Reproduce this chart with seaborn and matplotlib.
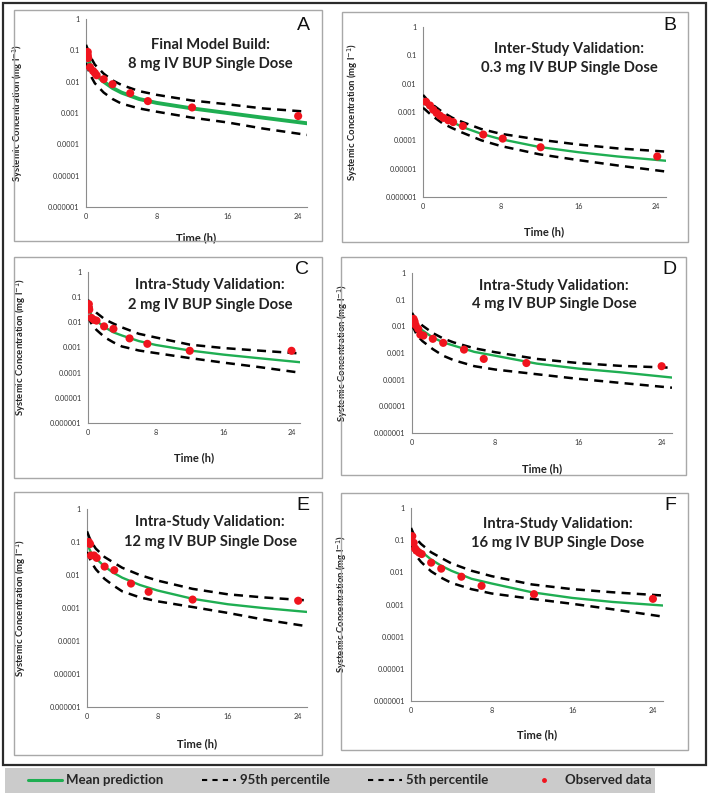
import matplotlib
matplotlib.use("Agg")
import pandas as pd
import matplotlib.pyplot as plt
import seaborn as sns
from matplotlib.lines import Line2D
from matplotlib.patches import Rectangle
from matplotlib.ticker import NullLocator

# --- data (time in h, concentration in mg/l) ---
TIME = [0, 0.25, 0.5, 1, 2, 3, 4, 6, 8, 12, 16, 20, 25]

# A: Final Model Build, 8 mg
A_MEAN = [1.0e-1, 5.6e-2, 3.2e-2, 1.8e-2, 1.0e-2, 6.3e-3, 4.5e-3, 2.8e-3, 2.1e-3, 1.4e-3, 1.0e-3, 7.1e-4, 4.7e-4]
A_P95 = [1.5e-1, 1.0e-1, 6.3e-2, 3.5e-2, 1.8e-2, 1.1e-2, 7.9e-3, 5.0e-3, 3.8e-3, 2.5e-3, 1.9e-3, 1.4e-3, 1.1e-3]
A_P5 = [4.0e-2, 2.5e-2, 1.6e-2, 8.9e-3, 4.5e-3, 2.8e-3, 2.0e-3, 1.4e-3, 1.1e-3, 7.1e-4, 5.0e-4, 3.2e-4, 2.0e-4]
A_OBS_T = [0.2, 0.2, 0.25, 0.45, 0.8, 1.0, 1.2, 2.0, 3.0, 5.0, 7.0, 12.0, 24.0]
A_OBS_C = [0.089, 0.07, 0.057, 0.029, 0.022, 0.019, 0.016, 0.012, 0.0083, 0.0043, 0.0024, 0.0015, 0.0008]

# B: Inter-study, 0.3 mg
B_MEAN = [2.2e-3, 1.9e-3, 1.6e-3, 1.2e-3, 6.8e-4, 4.5e-4, 3.0e-4, 1.7e-4, 1.1e-4, 5.8e-5, 3.8e-5, 2.7e-5, 1.9e-5]
B_P95 = [4.0e-3, 3.2e-3, 2.5e-3, 1.8e-3, 1.0e-3, 6.3e-4, 4.5e-4, 2.5e-4, 1.7e-4, 1.05e-4, 7.1e-5, 5.2e-5, 4.0e-5]
B_P5 = [1.4e-3, 1.2e-3, 1.0e-3, 7.1e-4, 4.0e-4, 2.7e-4, 1.9e-4, 1.0e-4, 6.3e-5, 3.2e-5, 2.0e-5, 1.3e-5, 7.9e-6]
B_OBS_T = [0.3, 0.72, 1.06, 1.4, 1.75, 2.1, 2.6, 3.1, 4.1, 6.2, 8.2, 12.1, 24.1]
B_OBS_C = [0.0023, 0.0017, 0.0012, 0.00092, 0.00074, 0.00062, 0.00051, 0.00044, 0.00032, 0.00016, 0.000115, 0.000057, 0.000027]

# C: Intra-study, 2 mg
C_MEAN = [4.0e-2, 2.5e-2, 1.66e-2, 1.12e-2, 6.3e-3, 4.0e-3, 3.0e-3, 1.8e-3, 1.26e-3, 7.6e-4, 5.2e-4, 3.8e-4, 2.6e-4]
C_P95 = [7.9e-2, 5.0e-2, 3.5e-2, 2.4e-2, 1.3e-2, 8.9e-3, 6.3e-3, 3.5e-3, 2.5e-3, 1.3e-3, 9.5e-4, 7.6e-4, 5.8e-4]
C_P5 = [1.8e-2, 1.1e-2, 7.9e-3, 5.0e-3, 2.5e-3, 1.6e-3, 1.1e-3, 7.6e-4, 6.0e-4, 3.8e-4, 2.5e-4, 1.7e-4, 1.0e-4]
C_OBS_T = [0.1, 0.1, 0.15, 0.4, 0.7, 1.0, 1.9, 3.0, 4.9, 7.0, 12.0, 24.0]
C_OBS_C = [0.053, 0.037, 0.032, 0.015, 0.0126, 0.0117, 0.0069, 0.0055, 0.0023, 0.0014, 0.00074, 0.00074]

# D: Intra-study, 4 mg
D_MEAN = [2.5e-2, 1.6e-2, 1.05e-2, 7.1e-3, 3.8e-3, 2.5e-3, 1.9e-3, 1.1e-3, 7.9e-4, 4.0e-4, 2.6e-4, 1.9e-4, 1.2e-4]
D_P95 = [3.2e-2, 2.2e-2, 1.6e-2, 1.07e-2, 5.6e-3, 3.5e-3, 2.5e-3, 1.5e-3, 1.07e-3, 6.0e-4, 4.2e-4, 3.3e-4, 2.8e-4]
D_P5 = [1.1e-2, 7.1e-3, 4.5e-3, 2.8e-3, 1.4e-3, 7.9e-4, 5.4e-4, 3.2e-4, 2.4e-4, 1.6e-4, 1.07e-4, 7.6e-5, 5.0e-5]
D_OBS_T = [0.15, 0.25, 0.35, 0.6, 0.8, 1.1, 2.0, 3.0, 5.0, 6.9, 11.0, 24.0]
D_OBS_C = [0.019, 0.015, 0.011, 0.008, 0.0049, 0.0045, 0.0034, 0.0024, 0.00134, 0.0006, 0.00042, 0.00032]

# E: Intra-study, 12 mg
E_MEAN = [8.9e-2, 6.3e-2, 4.5e-2, 3.2e-2, 1.8e-2, 1.17e-2, 8.3e-3, 5.0e-3, 3.4e-3, 1.9e-3, 1.3e-3, 1.0e-3, 7.6e-4]
E_P95 = [2.1e-1, 1.41e-1, 1.0e-1, 6.3e-2, 3.5e-2, 2.4e-2, 1.66e-2, 1.0e-2, 6.8e-3, 3.8e-3, 2.6e-3, 2.1e-3, 1.7e-3]
E_P5 = [5.0e-2, 3.5e-2, 2.4e-2, 1.5e-2, 7.6e-3, 4.8e-3, 3.2e-3, 2.1e-3, 1.6e-3, 1.07e-3, 7.1e-4, 4.5e-4, 2.8e-4]
E_OBS_T = [0.2, 0.35, 0.45, 0.8, 1.1, 2.0, 3.1, 5.0, 7.0, 12.0, 24.0]
E_OBS_C = [0.1, 0.087, 0.039, 0.039, 0.033, 0.018, 0.014, 0.0055, 0.0031, 0.0018, 0.00166]

# F: Intra-study, 16 mg
F_MEAN = [1.2e-1, 8.9e-2, 6.6e-2, 4.5e-2, 2.5e-2, 1.6e-2, 1.12e-2, 6.3e-3, 4.5e-3, 2.4e-3, 1.6e-3, 1.2e-3, 9.3e-4]
F_P95 = [2.4e-1, 1.58e-1, 1.12e-1, 7.6e-2, 4.2e-2, 2.8e-2, 1.9e-2, 1.12e-2, 7.6e-3, 4.2e-3, 3.0e-3, 2.4e-3, 1.9e-3]
F_P5 = [7.1e-2, 5.0e-2, 3.3e-2, 2.1e-2, 1.07e-2, 6.8e-3, 4.7e-3, 3.0e-3, 2.2e-3, 1.5e-3, 1.05e-3, 7.1e-4, 4.2e-4]
F_OBS_T = [0.13, 0.27, 0.4, 0.56, 0.8, 1.06, 2.0, 3.0, 5.0, 7.0, 12.2, 24.0]
F_OBS_C = [0.133, 0.083, 0.055, 0.047, 0.041, 0.037, 0.02, 0.013, 0.0073, 0.0038, 0.0021, 0.0015]

LETTERS = ["A", "B", "C", "D", "E", "F"]
TITLES = [
    ("Final Model Build:", "8 mg IV BUP Single Dose"),
    ("Inter-Study Validation:", "0.3 mg IV BUP Single Dose"),
    ("Intra-Study Validation:", "2 mg IV BUP Single Dose"),
    ("Intra-Study Validation:", "4 mg IV BUP Single Dose"),
    ("Intra-Study Validation:", "12 mg IV BUP Single Dose"),
    ("Intra-Study Validation:", "16 mg IV BUP Single Dose"),
]
YTICKS = [1e-6, 1e-5, 1e-4, 1e-3, 1e-2, 1e-1, 1]
YTICK_LABELS = ["0.000001", "0.00001", "0.0001", "0.001", "0.01", "0.1", "1"]
XTICKS = [0, 8, 16, 24]

SERIES = [
    (A_MEAN, A_P95, A_P5, A_OBS_T, A_OBS_C),
    (B_MEAN, B_P95, B_P5, B_OBS_T, B_OBS_C),
    (C_MEAN, C_P95, C_P5, C_OBS_T, C_OBS_C),
    (D_MEAN, D_P95, D_P5, D_OBS_T, D_OBS_C),
    (E_MEAN, E_P95, E_P5, E_OBS_T, E_OBS_C),
    (F_MEAN, F_P95, F_P5, F_OBS_T, F_OBS_C),
]

# --- layout in pixels (figure is 709 x 796) ---
W, H = 709, 796
# axes: left, top (y=1), right (x=25), bottom (y=1e-6)
AXES_PX = [(86, 19, 307, 207), (423, 27, 666, 197),
           (88, 272, 300, 423), (412, 273, 672, 433),
           (87, 509, 307, 707), (411, 508, 663, 701)]
# grey box around each panel: left, top, right, bottom
BOX_PX = [(14, 10, 322, 241), (342, 12, 688, 242),
          (14, 257, 322, 478), (341, 257, 686, 475),
          (14, 492, 322, 755), (341, 493, 688, 750)]
# title centre x, line1 y, line2 y ; letter x, y ; ylabel x ; xlabel y
TITLE_PX = [(210, 45, 64), (569, 49, 68), (210, 285, 305),
            (554, 286, 304), (210, 522, 542), (558, 524, 543)]
LETTER_PX = [(303, 25), (670, 25), (302, 270), (669, 270), (303, 505), (670, 505)]
YLAB_X = [25, 360, 28, 350, 28, 349]
XLAB_Y = [232, 226, 452, 463, 738, 729]
MEAN_LW = [2.8, 1.7, 1.7, 1.7, 1.7, 1.7]

GREEN = "#1FAE52"
RED = "#F0141E"
DASH = (0, (3.6, 2.5))

sns.set_style("white")
plt.rcParams["font.family"] = ["Lato", "DejaVu Sans"]


def frac(l, t, r, b):
    return [l / W, 1 - b / H, (r - l) / W, (b - t) / H]


fig = plt.figure(figsize=(W / 100, H / 100), dpi=100)

# outer black frame
fig.add_artist(Rectangle((3 / W, 1 - 765 / H), 703 / W, 762 / H, transform=fig.transFigure,
                         fill=False, edgecolor="#2b2b2b", lw=1.6))

for i, (mean, p95, p5, obs_t, obs_c) in enumerate(SERIES):
    bl, bt, br, bb = BOX_PX[i]
    fig.add_artist(Rectangle((bl / W, 1 - bb / H), (br - bl) / W, (bb - bt) / H,
                             transform=fig.transFigure, fill=False, edgecolor="#a8a8a8", lw=1.0))

    l, t, r, b = AXES_PX[i]
    ax = fig.add_axes(frac(l, t, r, b))
    ax.patch.set_alpha(0)

    sns.lineplot(x=TIME, y=mean, color=GREEN, lw=MEAN_LW[i], ax=ax, zorder=2)
    sns.lineplot(x=TIME, y=p95, color="black", lw=1.8, linestyle=DASH, ax=ax, zorder=3)
    sns.lineplot(x=TIME, y=p5, color="black", lw=1.8, linestyle=DASH, ax=ax, zorder=3)
    sns.scatterplot(x=obs_t, y=obs_c, color=RED, s=34, edgecolor="none", ax=ax, zorder=4)

    ax.set_yscale("log")
    ax.set_ylim(1e-6, 1)
    ax.set_xlim(0, 25)
    ax.set_yticks(YTICKS)
    ax.set_yticklabels(YTICK_LABELS)
    ax.yaxis.set_minor_locator(NullLocator())
    ax.set_xticks(XTICKS)
    ax.tick_params(axis="both", labelsize=5.2, colors="#333333", length=2.5, width=0.7, pad=2)
    ax.tick_params(axis="y", direction="out", color="#8c8c8c")
    ax.tick_params(axis="x", direction="inout", length=4, color="#8c8c8c")
    for side in ["top", "right"]:
        ax.spines[side].set_visible(False)
    for side in ["left", "bottom"]:
        ax.spines[side].set_color("#8c8c8c")
        ax.spines[side].set_linewidth(0.8)

    ax.set_xlabel("Time (h)", fontsize=8, fontweight="bold", color="#222222")
    ax.xaxis.set_label_coords(0.5, -(XLAB_Y[i] - b) / (b - t))
    ax.set_ylabel("Systemic Concentration (mg l$^{-1}$)", fontsize=6.8, fontweight="bold", color="#222222")
    ax.yaxis.set_label_coords((YLAB_X[i] - l) / (r - l), 0.5)

    tx, ty1, ty2 = TITLE_PX[i]
    fig.text(tx / W, 1 - ty1 / H, TITLES[i][0], ha="center", va="center",
             fontsize=10.6, fontweight="bold", color="#222222")
    fig.text(tx / W, 1 - ty2 / H, TITLES[i][1], ha="center", va="center",
             fontsize=10.6, fontweight="bold", color="#222222")
    lx, ly = LETTER_PX[i]
    fig.text(lx / W, 1 - ly / H, LETTERS[i], ha="center", va="center",
             fontsize=14, family=["Liberation Sans", "DejaVu Sans"], color="#111111")

# legend strip at the bottom
fig.add_artist(Rectangle((5 / W, 1 - 793 / H), 650 / W, 25 / H, transform=fig.transFigure,
                         facecolor="#cbcbcb", edgecolor="none"))
handles = [
    Line2D([], [], color=GREEN, lw=2.2),
    Line2D([], [], color="black", lw=1.5, linestyle=(0, (2.5, 2.5))),
    Line2D([], [], color="black", lw=1.5, linestyle=(0, (2.5, 2.5))),
    Line2D([], [], color=RED, marker="o", markersize=2.5, lw=0),
]
labels = ["Mean prediction", "95th percentile", "5th percentile", "Observed data"]
fig.legend(handles, labels, loc="center left", bbox_to_anchor=(16 / W, 1 - 780.5 / H),
           ncol=4, frameon=False, handlelength=2.6, handletextpad=0.3, columnspacing=2.9,
           prop={"size": 9.5, "weight": "bold"})

fig.savefig("out.png", dpi=100)
